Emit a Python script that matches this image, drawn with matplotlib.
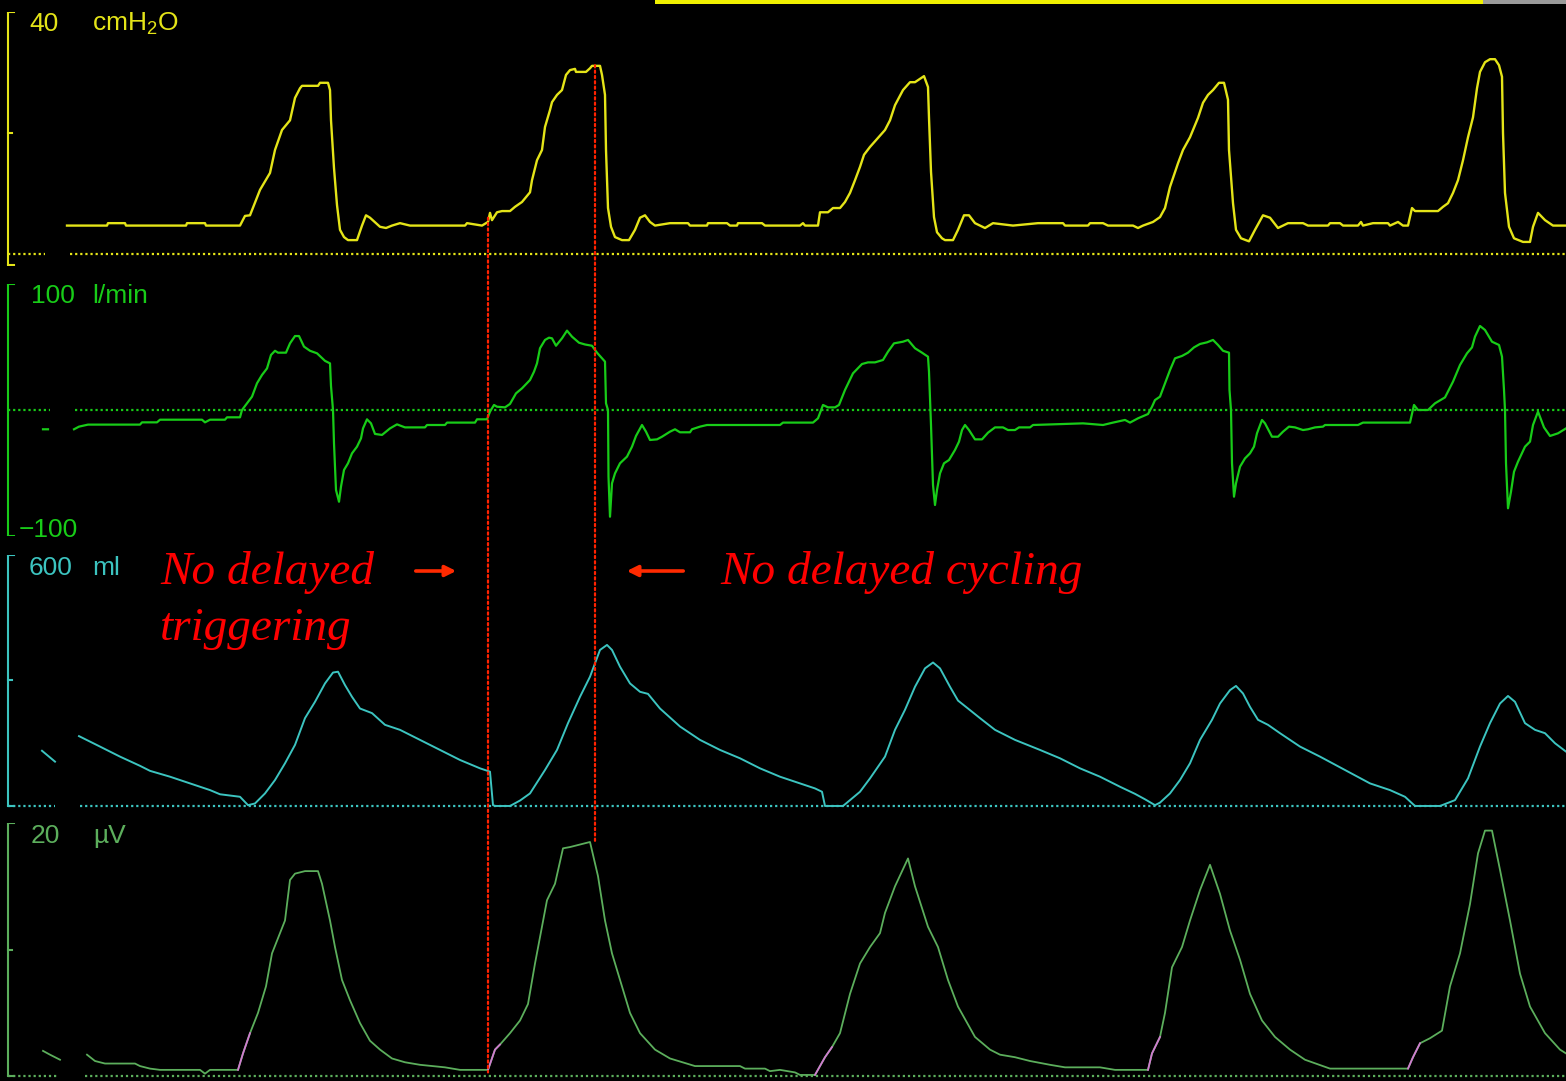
import numpy as np
import matplotlib
matplotlib.use("Agg")
import matplotlib.pyplot as plt
from matplotlib.patches import ConnectionPatch, FancyArrowPatch, Rectangle

W, H = 1566, 1081
nan = np.nan
plt.rcParams["mathtext.default"] = "regular"

# ---- data (time in s) ----
# airway pressure, cmH2O
p_t = [0.67, 1.07, 1.08, 1.25, 1.26, 1.86, 1.87, 2.05, 2.06, 2.40, 2.45, 2.50, 2.60, 2.70, 2.75, 2.82, 2.90, 2.95,
       3.00, 3.02, 3.18, 3.20, 3.28, 3.30, 3.31, 3.34, 3.37, 3.40, 3.44, 3.48, 3.57, 3.62, 3.66, 3.70, 3.80, 3.86,
       3.92, 4.00, 4.10, 4.65, 4.67, 4.82, 4.88, 4.90, 4.92, 4.97, 5.02, 5.10, 5.15, 5.22, 5.27, 5.30, 5.32, 5.37,
       5.42, 5.45, 5.50, 5.52, 5.57, 5.62, 5.66, 5.70, 5.75, 5.76, 5.86, 5.90, 5.92, 6.00, 6.02, 6.05, 6.06, 6.08,
       6.11, 6.15, 6.22, 6.29, 6.35, 6.40, 6.45, 6.50, 6.55, 6.70, 6.88, 6.90, 7.07, 7.08, 7.27, 7.30, 7.37, 7.38,
       7.62, 7.65, 8.00, 8.03, 8.05, 8.18, 8.20, 8.28, 8.33, 8.40, 8.45, 8.50, 8.55, 8.60, 8.64, 8.70, 8.78, 8.85,
       8.90, 8.95, 9.03, 9.10, 9.15, 9.24, 9.28, 9.29, 9.31, 9.34, 9.37, 9.42, 9.45, 9.53, 9.58, 9.64, 9.69, 9.75,
       9.85, 9.93, 10.13, 10.38, 10.63, 10.65, 10.88, 10.90, 11.03, 11.08, 11.33, 11.38, 11.43, 11.53, 11.60, 11.65,
       11.70, 11.78, 11.83, 11.90, 11.98, 12.03, 12.08, 12.13, 12.19, 12.24, 12.28, 12.29, 12.33, 12.36, 12.41,
       12.49, 12.55, 12.63, 12.70, 12.78, 12.88, 13.03, 13.08, 13.28, 13.30, 13.40, 13.43, 13.58, 13.61, 13.63,
       13.73, 13.88, 13.90, 13.98, 14.03, 14.08, 14.12, 14.15, 14.38, 14.43, 14.48, 14.53, 14.58, 14.63, 14.68,
       14.73, 14.77, 14.80, 14.85, 14.90, 14.95, 14.99, 15.02, 15.03, 15.05, 15.09, 15.14, 15.23, 15.30, 15.33,
       15.38, 15.45, 15.53, 15.66]
p_v = [4.7, 4.7, 5.1, 5.1, 4.7, 4.7, 5.1, 5.1, 4.7, 4.7, 6.3, 6.4, 10.6, 13.4, 17.2, 20.5, 22.1, 25.8,
       27.4, 27.8, 27.8, 28.3, 28.3, 27.1, 22.1, 14.2, 8.1, 4.0, 2.8, 2.3, 2.3, 4.7, 6.4, 6.0, 4.5, 4.3,
       4.7, 5.1, 4.7, 4.7, 5.1, 4.7, 5.3, 6.8, 5.6, 6.9, 7.1, 7.1, 7.8, 8.6, 9.6, 10.2, 12.2, 15.5,
       17.2, 21.0, 23.8, 25.1, 26.3, 27.1, 29.6, 30.4, 30.6, 30.1, 30.1, 30.7, 31.1, 31.1, 29.6, 26.3, 17.2, 7.6,
       4.5, 2.8, 2.3, 2.3, 4.0, 6.0, 6.4, 5.3, 4.7, 5.1, 5.1, 4.7, 4.7, 5.1, 5.1, 4.7, 4.7, 5.1,
       5.1, 4.7, 4.7, 5.1, 4.7, 4.7, 6.9, 6.9, 7.6, 7.6, 8.6, 10.1, 12.2, 14.4, 16.4, 17.7, 19.2, 20.5,
       22.1, 24.6, 27.1, 28.4, 28.4, 29.4, 27.6, 22.5, 13.6, 6.1, 3.6, 2.6, 2.3, 2.3, 4.0, 6.4, 6.4, 5.1,
       4.3, 5.1, 4.7, 5.1, 5.1, 4.7, 4.7, 5.1, 5.1, 4.7, 4.7, 4.3, 4.7, 5.3, 6.1, 7.6,
       11.1, 15.0, 17.2, 19.3, 22.5, 25.0, 26.3, 27.1, 28.3, 28.3, 25.5, 17.2, 8.4, 4.0, 2.6,
       2.1, 4.0, 6.4, 6.0, 4.3, 5.1, 5.1, 4.7, 4.7, 5.1, 5.1, 4.7, 4.7, 5.3, 4.7,
       5.1, 5.1, 4.7, 5.3, 4.7, 4.7, 7.6, 7.1, 7.1, 7.8, 8.4, 10.1, 12.2, 15.5, 19.3,
       22.6, 27.4, 30.1, 31.7, 32.2, 32.2, 31.2, 29.3, 20.0, 10.1, 4.5, 2.6, 2.0, 2.0, 4.5,
       6.8, 5.6, 4.7, 4.7]

# flow, l/min
f_t = [0.43, 0.48, nan,
       0.74, 0.79, 0.88, 1.40, 1.42, 1.57, 1.60, 2.02, 2.05, 2.10, 2.25, 2.27, 2.40, 2.42, 2.47, 2.52, 2.57, 2.62,
       2.67, 2.71, 2.75, 2.78, 2.86, 2.90, 2.95, 2.99, 3.04, 3.10, 3.17, 3.25, 3.30, 3.31, 3.33, 3.34, 3.36, 3.39,
       3.41, 3.44, 3.48, 3.52, 3.57, 3.61, 3.63, 3.67, 3.71, 3.75, 3.82, 3.90, 3.97, 4.05, 4.25, 4.27, 4.45, 4.47,
       4.75, 4.77, 4.87, 4.90, 4.94, 4.97, 5.05, 5.10, 5.16, 5.22, 5.30, 5.34, 5.37, 5.40, 5.45, 5.49, 5.52, 5.56,
       5.62, 5.67, 5.72, 5.79, 5.85, 5.92, 5.97, 6.02, 6.05, 6.06, 6.08, 6.085, 6.10, 6.12, 6.15, 6.20, 6.27, 6.32,
       6.36, 6.42, 6.46, 6.50, 6.57, 6.62, 6.70, 6.75, 6.80, 6.90, 6.92, 7.00, 7.07, 7.80, 7.83, 8.13, 8.18, 8.23,
       8.28, 8.35, 8.39, 8.45, 8.53, 8.62, 8.68, 8.75, 8.83, 8.88, 8.94, 9.03, 9.08, 9.15, 9.22, 9.28, 9.29, 9.31,
       9.33, 9.35, 9.37, 9.40, 9.44, 9.49, 9.55, 9.59, 9.62, 9.65, 9.69, 9.75, 9.82, 9.88, 9.95, 10.03, 10.08,
       10.15, 10.19, 10.30, 10.33, 10.83, 11.03, 11.13, 11.25, 11.30, 11.38, 11.48, 11.52, 11.55, 11.60, 11.65,
       11.70, 11.75, 11.82, 11.88, 11.94, 12.00, 12.07, 12.13, 12.18, 12.23, 12.29, 12.295, 12.31, 12.32, 12.34,
       12.36, 12.40, 12.45, 12.50, 12.54, 12.57, 12.62, 12.65, 12.72, 12.78, 12.83, 12.89, 12.95, 13.03, 13.08,
       13.15, 13.23, 13.25, 13.58, 13.63, 14.10, 14.14, 14.18, 14.28, 14.35, 14.45, 14.53, 14.60, 14.67, 14.72,
       14.75, 14.80, 14.85, 14.92, 14.99, 15.02, 15.04, 15.05, 15.06, 15.08, 15.11, 15.14, 15.18, 15.25, 15.30,
       15.33, 15.38, 15.44, 15.50, 15.58, 15.66]
f_v = [-15.3, -15.3, nan,
       -15.3, -13.2, -11.6, -11.6, -9.8, -9.8, -7.7, -7.7, -9.8, -7.7, -7.7, -5.8, -5.8, 0, 5.3, 10.6, 21.2, 27.8,
       33.0, 43.7, 47.0, 45.5, 45.5, 52.9, 58.7, 58.7, 50.3, 47.0, 45.0, 39.0, 37.0, 19.0, 0, -26.5, -63.5, -72.8,
       -60.8, -47.6, -42.3, -34.4, -29.1, -22.5, -14.6, -7.4, -10.6, -19.0, -19.8, -14.6, -11.4, -13.8, -13.8, -11.9, -11.9, -10.0,
       -10.0, -7.4, -7.4, -1.3, 4.0, 2.6, 2.1, 4.8, 13.2, 17.2, 23.8, 30.4, 37.0, 49.0, 55.6, 57.4, 56.9, 51.0,
       56.9, 63.0, 58.2, 53.4, 52.0, 51.0, 45.5, 41.0, 38.4, 5.3, 0, -52.9, -84.7, -58.2, -50.3, -42.3, -37.0, -29.1,
       -20.6, -11.9, -17.2, -23.8, -23.3, -21.2, -17.2, -15.3, -17.7, -17.7, -15.3, -13.2, -11.9, -11.9, -10.0, -10.0, -6.6, 4.0,
       2.1, 2.1, 4.0, 15.9, 29.1, 36.5, 37.8, 37.8, 39.7, 46.3, 52.9, 54.2, 55.6, 49.0, 45.5, 42.3, 30.4, -11.9,
       -59.5, -75.4, -63.5, -50.3, -42.3, -39.7, -31.7, -25.1, -15.9, -11.9, -15.9, -23.3, -23.3, -18.0, -13.8, -13.8, -15.9,
       -15.9, -13.8, -13.8, -11.9, -10.6, -11.9, -10.0, -7.9, -10.0, -6.6, -3.2, 2.6, 7.9, 10.6, 21.2,
       31.7, 41.0, 42.9, 45.5, 49.7, 52.4, 53.7, 55.6, 51.6, 47.0, 45.5, 15.9, 0, -42.3, -68.8,
       -58.2, -45.0, -38.4, -34.4, -29.1, -18.5, -7.9, -10.6, -21.2, -21.2, -17.2, -13.2, -13.8, -15.9, -15.3,
       -13.8, -13.2, -11.9, -11.9, -10.0, -10.0, 4.0, 0, 0, 5.3, 10.0, 22.5, 35.7, 45.0, 49.7,
       58.2, 66.7, 63.5, 54.2, 51.6, 42.3, 15.9, 0, -42.3, -78.0, -64.8, -49.0, -41.0, -29.1, -25.1,
       -11.9, -1.3, -13.8, -20.6, -18.5, -14.6]

# volume, ml
v_t = [0.42, 0.55, nan,
       0.79, 1.00, 1.20, 1.40, 1.50, 1.70, 1.90, 2.10, 2.20, 2.40, 2.48, 2.55, 2.65, 2.75, 2.85, 2.95, 3.05, 3.15,
       3.25, 3.33, 3.38, 3.45, 3.52, 3.60, 3.72, 3.85, 4.00, 4.20, 4.40, 4.60, 4.80, 4.90, 4.93, 4.95, 5.10, 5.20,
       5.30, 5.45, 5.57, 5.68, 5.80, 5.90, 6.00, 6.07, 6.12, 6.20, 6.30, 6.40, 6.48, 6.60, 6.80, 7.00, 7.20, 7.40,
       7.60, 7.80, 8.00, 8.15, 8.22, 8.25, 8.43, 8.50, 8.60, 8.70, 8.85, 8.95, 9.05, 9.15, 9.25, 9.33, 9.40, 9.50,
       9.58, 9.68, 9.80, 9.95, 10.15, 10.40, 10.60, 10.80, 11.00, 11.20, 11.35, 11.45, 11.55, 11.60, 11.70, 11.80,
       11.90, 12.00, 12.12, 12.20, 12.30, 12.36, 12.43, 12.50, 12.58, 12.68, 12.80, 13.00, 13.20, 13.45, 13.70,
       13.90, 14.05, 14.15, 14.40, 14.55, 14.68, 14.80, 14.90, 15.00, 15.08, 15.15, 15.25, 15.35, 15.45, 15.55, 15.66]
v_v = [132, 106, nan,
       167, 142, 118, 96, 84, 70, 54, 38, 28, 22, 2, 6, 30, 62, 102, 146, 210, 249,
       293, 319, 321, 289, 261, 233, 222, 194, 182, 158, 134, 110, 90, 82, 2, 0, 0, 13,
       30, 86, 134, 198, 261, 309, 373, 385, 373, 333, 293, 273, 268, 233, 190, 158, 134, 114,
       90, 70, 54, 42, 34, 0, 0, 14, 34, 66, 118, 182, 230, 285, 329, 343, 329, 285,
       252, 233, 210, 182, 158, 134, 114, 90, 70, 46, 29, 16, 2, 8, 30, 62,
       102, 158, 206, 245, 277, 287, 269, 237, 206, 194, 174, 142, 118, 86, 54,
       38, 22, 0, 0, 14, 66, 142, 198, 245, 263, 249, 198, 182, 174, 150, 130]

# diaphragm EMG, uV
e_t = [0.43, 0.50, 0.60, nan,
       0.87, 0.95, 1.05, 1.35, 1.40, 1.50, 1.60, 2.00, 2.05, 2.10, 2.38, 2.43, 2.50, 2.58, 2.66, 2.72, 2.80, 2.85,
       2.90, 2.95, 3.05, 3.18, 3.22, 3.30, 3.35, 3.42, 3.50, 3.60, 3.70, 3.80, 3.92, 4.05, 4.20, 4.45, 4.60, 4.88,
       4.95, 5.00, 5.10, 5.20, 5.28, 5.35, 5.40, 5.47, 5.55, 5.63, 5.70, 5.80, 5.90, 5.98, 6.05, 6.12, 6.20, 6.30,
       6.40, 6.55, 6.70, 6.95, 7.40, 7.45, 7.65, 7.70, 7.80, 7.95, 8.00, 8.15, 8.25, 8.32, 8.40, 8.50, 8.60, 8.70,
       8.80, 8.85, 8.95, 9.08, 9.15, 9.28, 9.38, 9.48, 9.58, 9.75, 9.90, 10.00, 10.15, 10.30, 10.50, 10.65, 11.00,
       11.15, 11.48, 11.52, 11.60, 11.65, 11.72, 11.82, 11.90, 12.00, 12.10, 12.20, 12.30, 12.40, 12.50, 12.62,
       12.75, 12.90, 13.05, 13.30, 14.08, 14.13, 14.20, 14.30, 14.42, 14.50, 14.60, 14.70, 14.78, 14.85, 14.92,
       15.00, 15.10, 15.20, 15.30, 15.45, 15.60, 15.66]
e_v = [2.0, 1.7, 1.3, nan,
       1.7, 1.2, 1.0, 1.0, 0.8, 0.6, 0.5, 0.5, 0.2, 0.5, 0.5, 1.8, 3.4, 5.0, 7.1, 9.7, 11.3, 12.3,
       15.5, 16.0, 16.2, 16.2, 15.2, 12.3, 10.2, 7.6, 6.0, 4.2, 2.8, 2.1, 1.4, 1.1, 0.9, 0.7, 0.5, 0.5,
       2.1, 2.5, 3.4, 4.4, 5.7, 8.9, 11.0, 13.9, 15.2, 18.0, 18.1, 18.3, 18.5, 15.8, 12.3, 9.7, 7.6, 5.0,
       3.4, 2.1, 1.4, 0.8, 0.8, 0.6, 0.6, 0.4, 0.5, 0.3, 0.1, 0.1, 1.5, 2.3, 3.4, 6.5, 8.9, 10.2,
       11.3, 12.9, 15.0, 17.2, 15.0, 11.8, 10.2, 7.6, 5.5, 3.1, 2.1, 1.7, 1.5, 1.2, 0.9, 0.7, 0.7,
       0.5, 0.5, 1.8, 3.1, 5.0, 8.6, 10.2, 12.3, 14.7, 16.7, 14.4, 11.5, 9.2, 6.5, 4.4,
       3.1, 2.1, 1.3, 0.6, 0.6, 1.5, 2.6, 3.0, 3.6, 7.1, 9.7, 13.6, 17.6, 19.4, 19.4,
       16.3, 12.3, 8.1, 5.5, 3.4, 2.1, 1.8]
# EMG onset (trigger) windows, drawn in magenta
onsets = [(2.38, 2.50), (4.88, 5.00), (8.15, 8.32), (11.48, 11.60), (14.08, 14.20)]

# markers: trigger and cycling instants of breath 2
t_trig, t_cyc = 4.88, 5.95

# ---- figure ----
fig = plt.figure(figsize=(W / 100, H / 100), dpi=100, facecolor="black")
lab_font = ["Liberation Sans", "DejaVu Sans"]


def add_axes(top_px, bot_px, ylim):
    ax = fig.add_axes([0, 1 - bot_px / H, 1, (bot_px - top_px) / H])
    ax.set_xlim(0, W / 100)
    ax.set_ylim(*ylim)
    ax.set_facecolor("none")
    ax.axis("off")
    return ax


def frame(ax, top, bottom, mid, color, gap):
    x0 = 0.08
    ax.plot([x0, x0], [bottom, top], color=color, lw=1.5, solid_capstyle="butt")
    ax.plot([x0, 0.145], [top, top], color=color, lw=1.5)
    ax.plot([x0, 0.14], [bottom, bottom], color=color, lw=1.5)
    if mid is not None:
        ax.plot([x0, 0.12], [mid, mid], color=color, lw=1.5)
    ax.plot([x0, gap[0]], [0, 0], color=color, lw=1.6, ls=(0, (1, 1.3)))
    ax.plot([gap[1], W / 100], [0, 0], color=color, lw=1.6, ls=(0, (1, 1.3)))


c_p, c_f, c_v, c_e = "#e4e418", "#18cc18", "#3cc4c0", "#5cae5c"

ax_p = add_axes(12, 266, (-1.98, 40))
ax_f = add_axes(284, 536, (-100, 100))
ax_v = add_axes(555, 810, (-9.6, 600))
ax_e = add_axes(823, 1080, (-0.3, 20))

frame(ax_p, 40, -1.8, 20, c_p, (0.45, 0.70))
frame(ax_f, 100, -100, None, c_f, (0.50, 0.75))
frame(ax_v, 600, 0, 300, c_v, (0.55, 0.80))
frame(ax_e, 20, 0, 10, c_e, (0.58, 0.85))

ax_p.plot(p_t, p_v, color=c_p, lw=1.7)
ax_f.plot(f_t, f_v, color=c_f, lw=1.6)
ax_v.plot(v_t, v_v, color=c_v, lw=1.4)
ax_e.plot(e_t, e_v, color=c_e, lw=1.3)
et, ev = np.array(e_t), np.array(e_v)
for a, b in onsets:
    m = (et >= a - 1e-9) & (et <= b + 1e-9)
    ax_e.plot(et[m], ev[m], color="#d07ad0", lw=1.3)

# channel labels
def label(x, y, s, color):
    fig.text(x / W, 1 - y / H, s, color=color, fontsize=19, family=lab_font, va="center", ha="left")

label(29, 24, "40", c_p)
label(92, 24, "cmH$_2$O", c_p)
label(31, 296, "100", c_f)
label(92, 296, "l/min", c_f)
label(19, 530, "\u2212100", c_f)
label(29, 568, "600", c_v)
label(92, 568, "ml", c_v)
label(31, 836, "20", c_e)
label(93, 836, "\u00b5V", c_e)

# red dotted markers across channels
red = "#ff2200"
for t, ya, yb in [(t_trig, 6.0, 0.3), (t_cyc, 31.2, 18.4)]:
    con = ConnectionPatch(xyA=(t, ya), coordsA=ax_p.transData, xyB=(t, yb), coordsB=ax_e.transData,
                          color=red, lw=1.6, ls=(0, (1, 1.4)))
    fig.add_artist(con)

# annotations
ann = dict(color="#ff0000", fontsize=34, family="Liberation Serif", style="italic", va="baseline")
fig.text(160 / W, 1 - 584 / H, "No delayed", **ann)
fig.text(160 / W, 1 - 640 / H, "triggering", **ann)
fig.text(720 / W, 1 - 584 / H, "No delayed cycling", **ann)
for x0, x1 in [(413, 459), (686, 624)]:
    arr = FancyArrowPatch((x0 / W, 1 - 571 / H), (x1 / W, 1 - 571 / H), transform=fig.transFigure,
                          arrowstyle="-|>", mutation_scale=16, lw=2.6, color="#ff2a00")
    fig.add_artist(arr)

# status bar at top
fig.add_artist(Rectangle((655 / W, 1 - 3.5 / H), (1483 - 655) / W, 3.5 / H, transform=fig.transFigure,
                         color="#f0f000", lw=0))
fig.add_artist(Rectangle((1483 / W, 1 - 3.5 / H), (W - 1483) / W, 3.5 / H, transform=fig.transFigure,
                         color="#9a9a9a", lw=0))

fig.savefig("out.png", dpi=100, facecolor="black")
